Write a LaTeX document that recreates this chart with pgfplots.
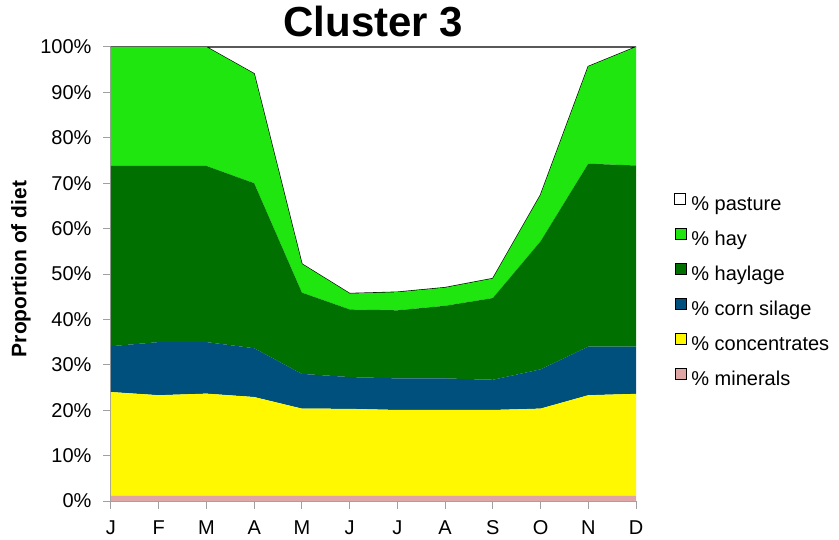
\documentclass[border=0pt]{standalone}
\usepackage{fontspec}
\setmainfont{Liberation Sans}
\usepackage{pgfplots}
\pgfplotsset{compat=1.18}
\definecolor{cmin}{RGB}{224,166,166}
\definecolor{cconc}{RGB}{255,248,0}
\definecolor{ccorn}{RGB}{0,80,125}
\definecolor{chaylage}{RGB}{0,112,0}
\definecolor{chay}{RGB}{30,230,14}
\definecolor{caxis}{RGB}{160,160,160}
\pgfplotstableread{
m minerals conc corn haylage hay pasture
0  1.2 22.8  10.1  39.7  26.2  0
1  1.2 22.1  11.7  38.8  26.2  0
2  1.2 22.45 11.35 38.8  26.2  0
3  1.2 21.7  10.75 36.35 24.1  5.9
4  1.2 19.15 7.65  17.9  6.3   47.8
5  1.2 19.1  7.0   14.9  3.5   54.3
6  1.2 18.85 6.95  15.0  4.0   54.0
7  1.2 18.85 6.95  16.0  4.0   53.0
8  1.2 18.85 6.65  18.0  4.3   51.0
9  1.2 19.15 8.65  28.2  10.2  32.6
10 1.2 22.1  10.7  40.3  21.4  4.3
11 1.2 22.4  10.4  39.9  26.1  0
}\diet
\begin{document}
\begin{tikzpicture}[x=1pt,y=1pt]
\useasboundingbox (-111,-38) rectangle (728,501);
\begin{axis}[
  at={(0,0)}, anchor=south west,
  scale only axis, width=525pt, height=454pt,
  xmin=0, xmax=11, ymin=0, ymax=100,
  stack plots=y,
  axis x line*=bottom, axis y line*=left,
  axis line style={draw=caxis, line width=1pt},
  tick style={draw=caxis, line width=1pt},
  tick align=outside, major tick length=8pt,
  xtick={0,...,11}, xticklabels={J,F,M,A,M,J,J,A,S,O,N,D},
  ytick={0,10,...,100},
  yticklabels={0\%,10\%,20\%,30\%,40\%,50\%,60\%,70\%,80\%,90\%,100\%},
  ticklabel style={font=\fontsize{20}{24}\selectfont},
  xticklabel style={yshift=-8pt},
  yticklabel style={xshift=-8pt},
  ylabel={Proportion of diet},
  ylabel style={font=\bfseries\fontsize{21}{25}\selectfont, at={(axis description cs:-0.1714,0.511)}, anchor=center},
  title={Cluster 3},
  title style={font=\bfseries\fontsize{42}{48}\selectfont, at={(axis description cs:0.5,1)}, anchor=base, yshift=4pt},
  reverse legend,
  legend cell align=left,
  legend style={at={(axis description cs:1,0.4626)}, anchor=west, xshift=38pt, draw=none, fill=none,
    inner sep=0pt, font=\fontsize{20}{24}\selectfont, row sep=14pt,
    /tikz/every odd column/.append style={column sep=3pt}},
  legend image code/.code={\draw[#1] (0pt,0pt) rectangle (11pt,11pt);},
]
\addplot[fill=cmin, draw=none] table[x=m, y=minerals]{\diet} \closedcycle;
\addlegendentry{\% minerals}
\addplot[fill=cconc, draw=none] table[x=m, y=conc]{\diet} \closedcycle;
\addlegendentry{\% concentrates}
\addplot[fill=ccorn, draw=none] table[x=m, y=corn]{\diet} \closedcycle;
\addlegendentry{\% corn silage}
\addplot[fill=chaylage, draw=none] table[x=m, y=haylage]{\diet} \closedcycle;
\addlegendentry{\% haylage}
\addplot[fill=chay, draw=none] table[x=m, y=hay]{\diet} \closedcycle;
\addlegendentry{\% hay}
\addplot[fill=white, draw=black, line width=1.2pt] table[x=m, y=pasture]{\diet} \closedcycle;
\addlegendentry{\% pasture}
\end{axis}
\end{tikzpicture}
\end{document}
